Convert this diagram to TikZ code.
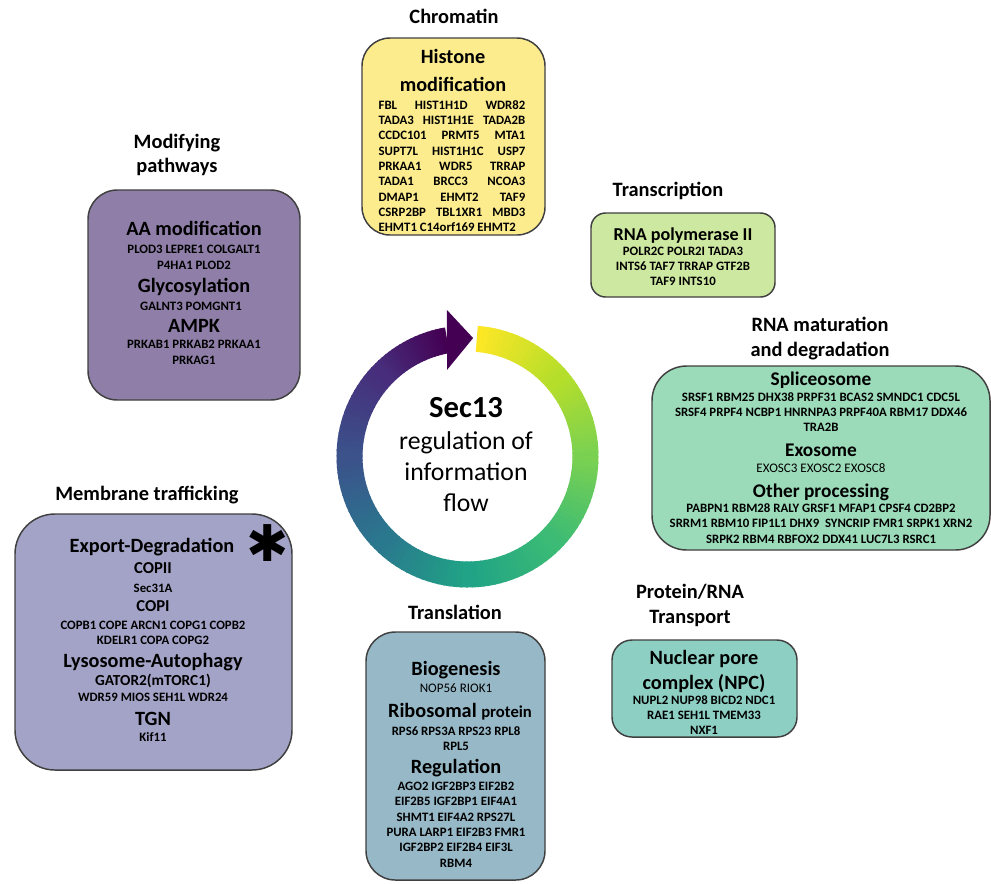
\documentclass[tikz,border=0pt]{standalone}
\usepackage{fontspec}
\setmainfont{Carlito}
\newfontfamily\symfont{DejaVu Sans}
\usepackage{xcolor}
\definecolor{boxline}{HTML}{404040}
\definecolor{chromfill}{HTML}{FCEC8E}
\definecolor{modfill}{HTML}{8F7FA8}
\definecolor{polfill}{HTML}{CDE8A0}
\definecolor{matfill}{HTML}{9CDBB9}
\definecolor{memfill}{HTML}{A3A3C7}
\definecolor{transfill}{HTML}{96B8C7}
\definecolor{npcfill}{HTML}{8ECFC4}
\definecolor{vyel}{HTML}{FDE725}
\definecolor{vlim}{HTML}{B5DE2B}
\definecolor{vgrn}{HTML}{7AD151}
\definecolor{vgrb}{HTML}{3BBB75}
\definecolor{vtea}{HTML}{20A386}
\definecolor{vtbl}{HTML}{2A788E}
\definecolor{vblu}{HTML}{3B528B}
\definecolor{vind}{HTML}{472D7B}
\definecolor{vpur}{HTML}{440154}
\newcommand{\lbfont}{\fontsize{15.3}{18}\bfseries\selectfont}
\newcommand{\hdfont}{\fontsize{15.2}{18}\bfseries\selectfont}
\newcommand{\subfont}{\fontsize{12.5}{15}\bfseries\selectfont}
\newcommand{\gnfont}{\fontsize{9.6}{11.5}\bfseries\selectfont}
\newcommand{\gnrfont}{\fontsize{9.8}{11.5}\selectfont}

\begin{document}
\begin{tikzpicture}[x=0.75pt,y=-0.75pt,
    box/.style={draw=boxline,line width=1.1pt,rounded corners=#1},
    lbl/.style={font=\lbfont,anchor=base,inner sep=0pt},
    hd/.style={font=\hdfont,anchor=base,inner sep=0pt},
    sub/.style={font=\subfont,anchor=base,inner sep=0pt},
    gn/.style={font=\gnfont,align=center,inner sep=0pt}]
    \fill[white] (0,0) rectangle (991,883);
    \useasboundingbox (0,0) rectangle (991,883);

    \draw[box=21pt,fill=chromfill] (362,38) rectangle (545,235);
    \draw[box=22pt,fill=modfill] (88,190) rectangle (300,400);
    \draw[box=11pt,fill=polfill] (591,213) rectangle (775,297);
    \draw[box=26pt,fill=matfill] (652,366) rectangle (990,550);
    \draw[box=30pt,fill=memfill] (15,514) rectangle (292,770);
    \draw[box=22pt,fill=transfill] (366,632) rectangle (545,880);
    \draw[box=15pt,fill=npcfill] (612,640) rectangle (797,737);

    \begin{scope}[shift={(467.5,456.5)},y=0.75pt]
        \foreach \cA/\cB/\aS/\aE in {vyel/vlim/85.5/40,vlim/vgrn/40/0,vgrn/vgrb/0/-45,vgrb/vtea/-45/-90,
                                     vtea/vtbl/-90/-135,vtbl/vblu/-135/-180,vblu/vind/-180/-225,vind/vpur/-225/-259.5}{
            \foreach \k in {0,...,17}{
                \pgfmathsetmacro\angA{\aS+(\aE-\aS)*\k/18}
                \pgfmathsetmacro\angB{\aS+(\aE-\aS)*(\k+1)/18-0.6}
                \pgfmathtruncatemacro\pc{100-\k*100/17}
                \fill[\cA!\pc!\cB] (\angA:105) arc[start angle=\angA,end angle=\angB,radius=105]
                    -- (\angB:131) arc[start angle=\angB,end angle=\angA,radius=131] -- cycle;
            }
        }
        \fill[vpur] (103.3:89) -- (98:148) -- (87.3:118.6) -- cycle;
    \end{scope}

    \node[font=\fontsize{23}{27}\bfseries\selectfont,anchor=base,inner sep=0pt] (sec) at (466,417) {Sec13};
    \node[font=\fontsize{19.3}{23}\selectfont,anchor=base,inner sep=0pt] (flow1) at (466,449) {regulation of};
    \node[font=\fontsize{19.3}{23}\selectfont,anchor=base,inner sep=0pt] (flow2) at (466,480) {information};
    \node[font=\fontsize{19.3}{23}\selectfont,anchor=base,inner sep=0pt] (flow3) at (466,511) {flow};

    \node[lbl] (chrom) at (454,23) {Chromatin};
    \node[hd] (hm1) at (453,63) {Histone};
    \node[hd] (hm2) at (453,91) {modification};
    \node[gn,align=left] (hm-genes) at (452,166) {%
        \hbox to 110pt{FBL\hfill HIST1H1D\hfill WDR82}\\
        \hbox to 110pt{TADA3\hfill HIST1H1E\hfill TADA2B}\\
        \hbox to 110pt{CCDC101\hfill PRMT5\hfill MTA1}\\
        \hbox to 110pt{SUPT7L\hfill HIST1H1C\hfill USP7}\\
        \hbox to 110pt{PRKAA1\hfill WDR5\hfill TRRAP}\\
        \hbox to 110pt{TADA1\hfill BRCC3\hfill NCOA3}\\
        \hbox to 110pt{DMAP1\hfill EHMT2\hfill TAF9}\\
        \hbox to 110pt{CSRP2BP\hfill TBL1XR1\hfill MBD3}\\
        EHMT1 C14orf169 EHMT2};

    \node[lbl] (mod1) at (177,148) {Modifying};
    \node[lbl] (mod2) at (177,172) {pathways};
    \node[hd] (aamod) at (194,235) {AA modification};
    \node[gn] (aamod-genes) at (194,257.5) {PLOD3 LEPRE1 COLGALT1\\P4HA1 PLOD2};
    \node[hd] (glyco) at (194,292) {Glycosylation};
    \node[gn] (glyco-genes) at (191,306) {GALNT3 POMGNT1};
    \node[hd] (ampk) at (194,332) {AMPK};
    \node[gn] (ampk-genes) at (194,352.5) {PRKAB1 PRKAB2 PRKAA1\\PRKAG1};

    \node[lbl] (transc) at (668,196) {Transcription};
    \node[hd,font=\fontsize{13.6}{16}\bfseries\selectfont] (pol) at (683,240) {RNA polymerase II};
    \node[gn] (pol-genes) at (683,266.5) {POLR2C POLR2I TADA3\\INTS6 TAF7 TRRAP GTF2B\\TAF9 INTS10};

    \node[lbl] (mat1) at (820,331) {RNA maturation};
    \node[lbl] (mat2) at (820,356) {and degradation};
    \node[hd,font=\fontsize{14.5}{17}\bfseries\selectfont] (splic) at (821,385) {Spliceosome};
    \node[gn] (splic-genes) at (821,412) {SRSF1 RBM25 DHX38 PRPF31 BCAS2 SMNDC1 CDC5L\\SRSF4 PRPF4 NCBP1 HNRNPA3 PRPF40A RBM17 DDX46\\TRA2B};
    \node[hd,font=\fontsize{14.5}{17}\bfseries\selectfont] (exo) at (821,456) {Exosome};
    \node[gn,font=\gnrfont] (exo-genes) at (821,468) {EXOSC3 EXOSC2 EXOSC8};
    \node[hd,font=\fontsize{14.5}{17}\bfseries\selectfont] (other) at (821,497) {Other processing};
    \node[gn] (other-genes) at (821,523.5) {PABPN1 RBM28 RALY GRSF1 MFAP1 CPSF4 CD2BP2\\SRRM1 RBM10 FIP1L1 DHX9\ \ SYNCRIP FMR1 SRPK1 XRN2\\SRPK2 RBM4 RBFOX2 DDX41 LUC7L3 RSRC1};

    \node[lbl] (memb) at (147,500) {Membrane trafficking};
    \node[hd] (expdeg) at (152,552) {Export-Degradation};
    \node[font=\fontsize{38}{38}\symfont\bfseries\selectfont,inner sep=0pt] (asterisk) at (268,543) {✱};
    \node[sub] (copii) at (153,573) {COPII};
    \node[gn] (copii-genes) at (153,588) {Sec31A};
    \node[sub] (copi) at (153,611) {COPI};
    \node[gn] (copi-genes) at (153,632.5) {COPB1 COPE ARCN1 COPG1 COPB2\\KDELR1 COPA COPG2};
    \node[hd] (lyso) at (153,667) {Lysosome-Autophagy};
    \node[gn,font=\fontsize{11.5}{13}\bfseries\selectfont] (gator) at (153,681) {GATOR2(mTORC1)};
    \node[gn] (gator-genes) at (153,697) {WDR59 MIOS SEH1L WDR24};
    \node[hd] (tgn) at (153,725) {TGN};
    \node[gn] (tgn-genes) at (153,737) {Kif11};

    \node[lbl] (transl) at (455,619) {Translation};
    \node[hd] (biog) at (456,675) {Biogenesis};
    \node[gn,font=\gnrfont] (biog-genes) at (456,688) {NOP56 RIOK1};
    \node[hd] (ribo) at (460,717) {Ribosomal {\fontsize{12.5}{15}\selectfont protein}};
    \node[gn] (ribo-genes) at (456,738.5) {RPS6 RPS3A RPS23 RPL8\\RPL5};
    \node[hd] (regul) at (456,773) {Regulation};
    \node[gn] (regul-genes) at (456,824.5) {AGO2 IGF2BP3 EIF2B2\\EIF2B5 IGF2BP1 EIF4A1\\SHMT1 EIF4A2 RPS27L\\PURA LARP1 EIF2B3 FMR1\\IGF2BP2 EIF2B4 EIF3L\\RBM4};

    \node[lbl] (prot1) at (690,598) {Protein/RNA};
    \node[lbl] (prot2) at (690,623) {Transport};
    \node[hd] (npc1) at (704,664) {Nuclear pore};
    \node[hd] (npc2) at (704,689) {complex (NPC)};
    \node[gn] (npc-genes) at (704,715) {NUPL2 NUP98 BICD2 NDC1\\RAE1 SEH1L TMEM33\\NXF1};
\end{tikzpicture}
\end{document}
